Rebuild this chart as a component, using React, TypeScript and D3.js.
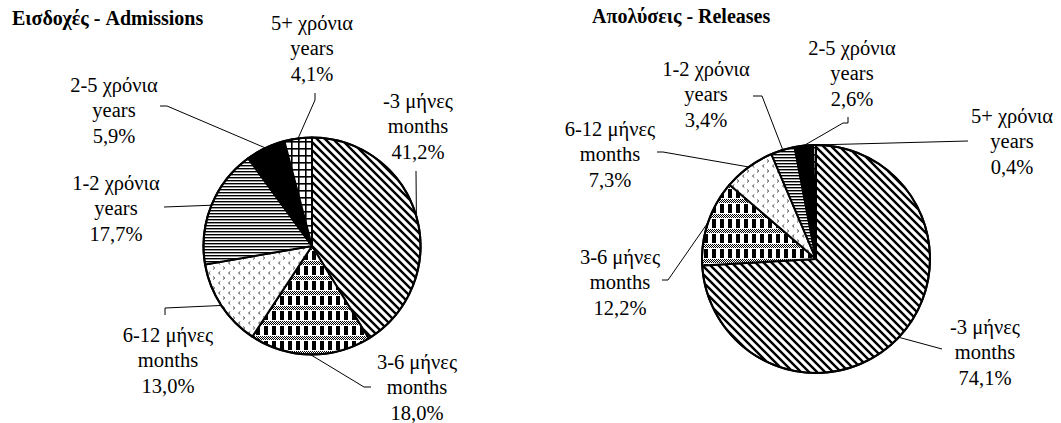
import React, { useMemo } from 'react';
import * as d3 from 'd3';

const WIDTH = 1061;
const HEIGHT = 423;
const FONT = "'Liberation Serif', 'Times New Roman', Times, serif";

const durations = ['-3 μήνες', '3-6 μήνες', '6-12 μήνες', '1-2 χρόνια', '2-5 χρόνια', '5+ χρόνια'];
const units = ['months', 'months', 'months', 'years', 'years', 'years'];
const admissions = [41.2, 18.0, 13.0, 17.7, 5.9, 4.1];
const releases = [74.1, 12.2, 7.3, 3.4, 2.6, 0.4];
const fills = ['url(#pDiag)', 'url(#pCheck)', 'url(#pDots)', 'url(#pHoriz)', '#000', 'url(#pGrid)'];

// label layout: middle line centre, then leader points from the label towards the slice
const admLabels = [
  { x: 418, y: 126, lead: [[416, 171]] },
  { x: 417, y: 387, lead: [[371, 387], [364, 387]] },
  { x: 168, y: 360, lead: [[165, 315], [165, 308]] },
  { x: 116, y: 208, lead: [[164, 207]] },
  { x: 114, y: 110, lead: [[160, 106], [167, 106]] },
  { x: 312, y: 48, lead: [[315, 93], [315, 100]] },
];
const relLabels = [
  { x: 985, y: 352, lead: [[942, 349]] },
  { x: 620, y: 282, lead: [[662, 280], [668, 280]] },
  { x: 610, y: 154, lead: [[657, 152], [663, 152]] },
  { x: 706, y: 94, lead: [[753, 96], [762, 96]] },
  { x: 852, y: 73, lead: [[848, 117], [848, 123], [843, 123]] },
  { x: 1012, y: 141, lead: [[968, 141]] },
];

const fmt = (v: number) => v.toFixed(1).replace('.', ',') + '%';

function Pie({ values, cx, cy, r, labels }) {
  const arcs = useMemo(
    () => d3.pie<number>().sort(null).value((d) => d)(values),
    [values]
  );
  const arc = d3.arc<d3.PieArcDatum<number>>().innerRadius(0).outerRadius(r);
  const line = d3.line();
  return (
    <g>
      <g transform={`translate(${cx},${cy})`}>
        {arcs.map((a, i) => (
          <path key={i} d={arc(a)} fill={fills[i]} stroke="#000" strokeWidth={2} strokeLinejoin="round" />
        ))}
        <circle r={r} fill="none" stroke="#000" strokeWidth={2} />
      </g>
      {arcs.map((a, i) => {
        const mid = (a.startAngle + a.endAngle) / 2;
        const end: [number, number] = [cx + Math.sin(mid) * r, cy - Math.cos(mid) * r];
        const pts = [...labels[i].lead, end] as [number, number][];
        return <path key={'l' + i} d={line(pts)} fill="none" stroke="#000" strokeWidth={1} />;
      })}
      {arcs.map((a, i) => {
        const lb = labels[i];
        const lines = [durations[i], units[i], fmt(values[i])];
        return (
          <g key={'t' + i}>
            {lines.map((t, j) => (
              <text
                key={j}
                x={lb.x}
                y={lb.y + (j - 1) * 25.5}
                textAnchor="middle"
                dominantBaseline="central"
                style={{ fontFamily: FONT, fontSize: '20.5px' }}
                fill="#000"
              >
                {t}
              </text>
            ))}
          </g>
        );
      })}
    </g>
  );
}

export default function App() {
  return (
    <svg width={WIDTH} height={HEIGHT} style={{ position: 'absolute', left: 0, top: 0, background: '#fff' }}>
      <defs>
        <pattern id="pDiag" width={8} height={8} patternUnits="userSpaceOnUse">
          <rect width={8} height={8} fill="#fff" />
          <path d="M0,0L8,8M-4,4L4,12M4,-4L12,4" stroke="#000" strokeWidth={2.4} />
        </pattern>
        <pattern id="pDither" width={2} height={2} patternUnits="userSpaceOnUse">
          <rect width={2} height={2} fill="#fff" />
          <rect width={1} height={1} fill="#000" />
          <rect x={1} y={1} width={1} height={1} fill="#000" />
        </pattern>
        <pattern id="pCheck" width={8} height={15} patternUnits="userSpaceOnUse">
          <rect width={8} height={15} fill="#fff" />
          <rect x={0} y={0} width={8} height={4} fill="url(#pDither)" />
          <rect x={0} y={5} width={4} height={9} fill="#000" />
        </pattern>
        <pattern id="pDots" width={10} height={10} patternUnits="userSpaceOnUse">
          <rect width={10} height={10} fill="#fff" />
          <path d="M1,0.5L2.8,2L1,3.5" stroke="#444" strokeWidth={1} fill="none" />
          <path d="M8.3,5.5L6.5,7L8.3,8.5" stroke="#444" strokeWidth={1} fill="none" />
        </pattern>
        <pattern id="pHoriz" width={4} height={3} patternUnits="userSpaceOnUse">
          <rect width={4} height={3} fill="#fff" />
          <rect y={0} width={4} height={1} fill="#000" />
          <rect y={1} width={4} height={1} fill="#999" />
        </pattern>
        <pattern id="pGrid" width={7} height={7} patternUnits="userSpaceOnUse">
          <rect width={7} height={7} fill="#fff" />
          <rect x={0} width={1.6} height={7} fill="#000" />
          <rect y={0} width={7} height={1.6} fill="#000" />
        </pattern>
      </defs>
      <text x={12} y={25} style={{ fontFamily: FONT, fontWeight: 'bold', fontSize: '20px' }}>
        Εισδοχές - Admissions
      </text>
      <text x={592} y={23} style={{ fontFamily: FONT, fontWeight: 'bold', fontSize: '20px' }}>
        Απολύσεις - Releases
      </text>
      <Pie values={admissions} cx={312} cy={246} r={108.5} labels={admLabels} />
      <Pie values={releases} cx={816} cy={259} r={114} labels={relLabels} />
    </svg>
  );
}
